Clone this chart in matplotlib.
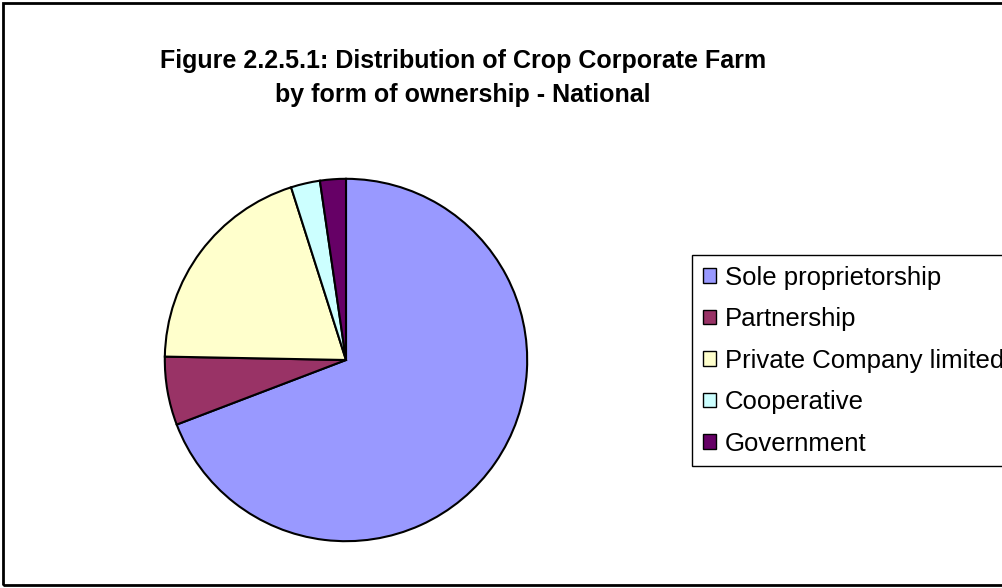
import matplotlib
matplotlib.use("Agg")
import matplotlib.pyplot as plt
from matplotlib.patches import Rectangle

''' Data
'''
labels = ["Sole proprietorship", "Partnership", "Private Company limited",
          "Cooperative", "Government"]
shares = [69.2, 6.1, 19.8, 2.6, 2.3]
colors = ["#9999FF", "#993366", "#FFFFCC", "#CCFFFF", "#660066"]
title = "Figure 2.2.5.1: Distribution of Crop Corporate Farm\nby form of ownership - National"

plt.rcParams['font.family'] = ['Liberation Sans', 'DejaVu Sans']

W, H = 1003, 588
fig = plt.figure(figsize=(W / 100, H / 100), dpi=100)

# outer chart frame
fig.patches.append(Rectangle((3 / W, 3 / H), 1.2, 1 - 6 / H, transform=fig.transFigure,
                             fill=False, edgecolor="black", linewidth=2))

cx, cy, r = 346, 360, 183
ax = fig.add_axes([(cx - r) / W, (H - cy - r) / H, 2 * r / W, 2 * r / H])
wedges, _ = ax.pie(shares, colors=colors, startangle=90, counterclock=False,
                   wedgeprops=dict(edgecolor="black", linewidth=1.5))
ax.set_xlim(-1.01, 1.01)
ax.set_ylim(-1.01, 1.01)
ax.axis("off")

fig.text(463 / W, 1 - 78 / H, title, ha="center", va="center", fontsize=18,
         fontweight="bold", linespacing=1.5)

leg = fig.legend(wedges, labels, loc="upper left", bbox_to_anchor=(692 / W, 1 - 255 / H),
                 fontsize=18.5, frameon=True, fancybox=False, edgecolor="black",
                 framealpha=1, borderaxespad=0, handlelength=0.5, handleheight=0.5,
                 handletextpad=0.35, labelspacing=0.68, borderpad=0.42)
leg.get_frame().set_linewidth(1)
for h in leg.legend_handles:
    h.set_linewidth(1)

fig.savefig("out.png", dpi=100)
